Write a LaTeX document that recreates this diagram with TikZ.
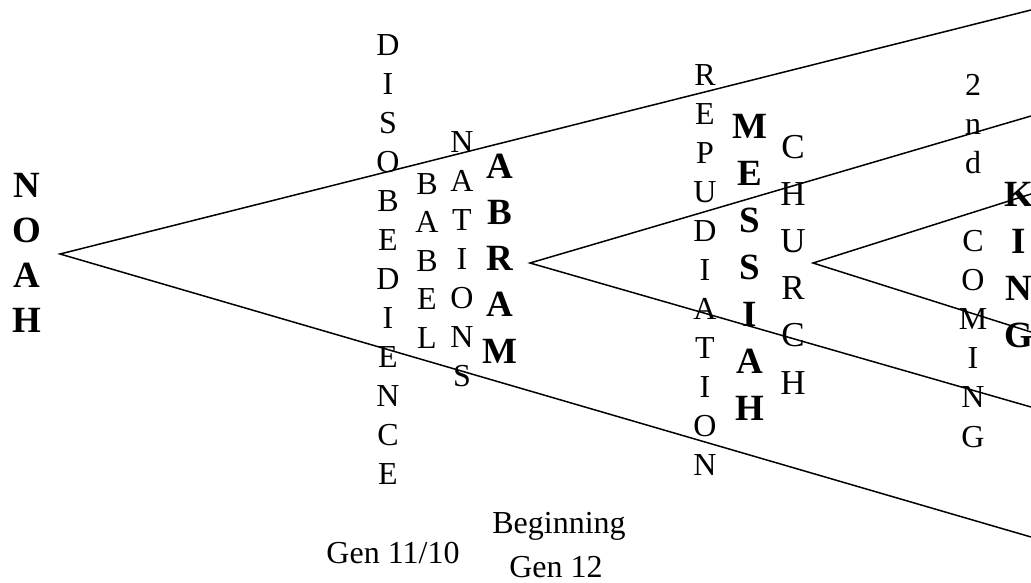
\documentclass[tikz,border=0pt]{standalone}
\usepackage{fontspec}
\setmainfont{Liberation Serif}
\usepackage{tikz}
\tikzset{%
    letter/.style={font=\fontsize{32}{38}\selectfont, anchor=base, inner sep=0pt},
    boldletter/.style={font=\fontsize{37}{44}\selectfont\bfseries, anchor=base, inner sep=0pt},
    churchletter/.style={font=\fontsize{35}{42}\selectfont, anchor=base, inner sep=0pt},
    branch/.style={line width=1.5pt}
}

\begin{document}
\begin{tikzpicture}[x=1pt,y=-1pt]
\useasboundingbox (0,0) rectangle (1031,582);

% apexes and free ends of the branches
\coordinate (noah) at (60,254);
\coordinate (noahup) at (1031,10);
\coordinate (noahdown) at (1031,537);
\coordinate (abram) at (530,263);
\coordinate (abramup) at (1031,116);
\coordinate (abramdown) at (1031,407);
\coordinate (church) at (813,263);
\coordinate (churchup) at (1031,194);
\coordinate (churchdown) at (1031,332);

\draw[branch] (noahup) -- (noah) -- (noahdown);
\draw[branch] (abramup) -- (abram) -- (abramdown);
\draw[branch] (churchup) -- (church) -- (churchdown);

% bold columns
\foreach \l [count=\i from 0] in {N,O,A,H}
    \node[boldletter] (noah\i) at (27,{197+45.3*\i}) {\l};
\foreach \l [count=\i from 0] in {A,B,R,A,M}
    \node[boldletter] (abr\i) at (500,{178+46.3*\i}) {\l};
\foreach \l [count=\i from 0] in {M,E,S,S,I,A,H}
    \node[boldletter] (mes\i) at (750,{138+47*\i}) {\l};
\foreach \l [count=\i from 0] in {K,I,N,G}
    \node[boldletter] (king\i) at (1019,{206+47*\i}) {\l};

% plain columns
\foreach \l [count=\i from 0] in {D,I,S,O,B,E,D,I,E,N,C,E}
    \node[letter] (dis\i) at (388,{55+39*\i}) {\l};
\foreach \l [count=\i from 0] in {B,A,B,E,L}
    \node[letter] (bab\i) at (427,{194+38.5*\i}) {\l};
\foreach \l [count=\i from 0] in {N,A,T,I,O,N,S}
    \node[letter] (nat\i) at (462,{152+39*\i}) {\l};
\foreach \l [count=\i from 0] in {R,E,P,U,D,I,A,T,I,O,N}
    \node[letter] (rep\i) at (705,{85+39*\i}) {\l};
\foreach \l [count=\i from 0] in {C,H,U,R,C,H}
    \node[churchletter] (chu\i) at (793,{158+47.2*\i}) {\l};
\foreach \l [count=\i from 0] in {2,n,d}
    \node[letter] (sec\i) at (973,{95+39.2*\i}) {\l};
\foreach \l [count=\i from 0] in {C,O,M,I,N,G}
    \node[letter] (com\i) at (973,{251+39.2*\i}) {\l};

% references
\node[letter] (gen11) at (393,563) {Gen 11/10};
\node[letter] (begin) at (559,533) {Beginning};
\node[letter] (gen12) at (556,577) {Gen 12};
\end{tikzpicture}
\end{document}
